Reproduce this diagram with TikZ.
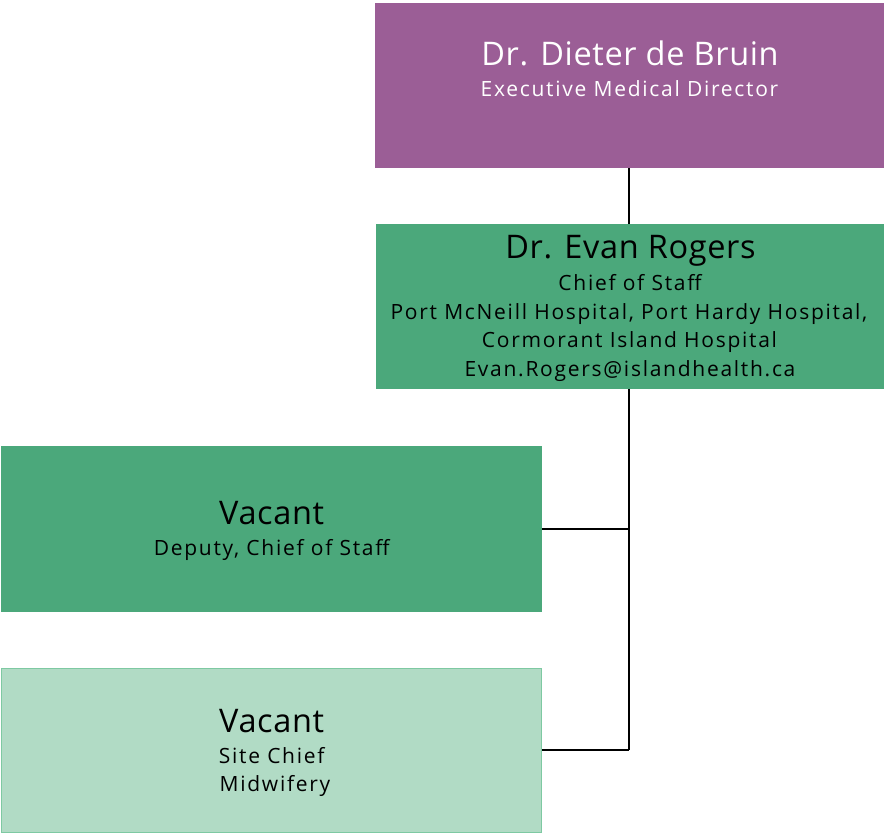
\documentclass[tikz,border=0pt]{standalone}
\usepackage{fontspec}
\setmainfont{Open Sans}
\newfontfamily\titlefont[LetterSpace=2]{Open Sans}
\newfontfamily\subfont[LetterSpace=8.2]{Open Sans}
\definecolor{purp}{HTML}{9B5E96}
\definecolor{grn}{HTML}{4BA87B}
\definecolor{lgrn}{HTML}{B1DBC5}
\definecolor{lgrnb}{HTML}{7EC9A2}
\begin{document}
\begin{tikzpicture}[x=1pt,y=-1pt,
  ttl/.style={inner sep=0pt,outer sep=0pt,anchor=base,font=\titlefont\fontsize{32.5}{36}\selectfont},
  sub/.style={inner sep=0pt,outer sep=0pt,anchor=base,font=\subfont\fontsize{21}{25}\selectfont},
  conn/.style={draw=black,line width=2.5pt}]
\useasboundingbox (0,0) rectangle (884,834);
% Executive Medical Director
\fill[purp] (375,3) rectangle (884,168);
\node[ttl,text=white] (dir) at (630,66) {Dr. Dieter de Bruin};
\node[sub,text=white] (dirt) at (629.5,97) {Executive Medical Director};
\coordinate (dirb) at (629,168);
% Chief of Staff
\fill[grn] (376,224) rectangle (884,389);
\node[ttl] (cos) at (630.5,259) {Dr. Evan Rogers};
\node[sub] (cos1) at (630,291) {Chief of Staff};
\node[sub] (cos2) at (629,320) {Port McNeill Hospital, Port Hardy Hospital,};
\node[sub] (cos3) at (629.5,348) {Cormorant Island Hospital};
\node[sub] (cos4) at (630,377) {Evan.Rogers@islandhealth.ca};
\coordinate (cost) at (629,224);
\coordinate (cosb) at (629,389);
% Deputy
\fill[grn] (1,446) rectangle (542,612);
\node[ttl] (dep) at (271.7,524) {Vacant};
\node[sub] (dept) at (271.7,555) {Deputy, Chief of Staff};
% Site chief
\filldraw[fill=lgrn,draw=lgrnb,line width=1pt] (1.5,668.5) rectangle (541.5,832.5);
\node[ttl] (site) at (271.7,732) {Vacant};
\node[sub] (site1) at (271.7,763) {Site Chief};
\node[sub] (site2) at (275,791) {Midwifery};
\coordinate (depr) at (542,529);
\coordinate (siter) at (542,750);
\coordinate (j1) at (629,529);
\coordinate (j2) at (629,750);
\draw[conn] (dirb) -- (cost);
\draw[conn] (cosb) -- (j2);
\draw[conn] (depr) -- (j1);
\draw[conn] (siter) -- (j2);
\end{tikzpicture}
\end{document}
